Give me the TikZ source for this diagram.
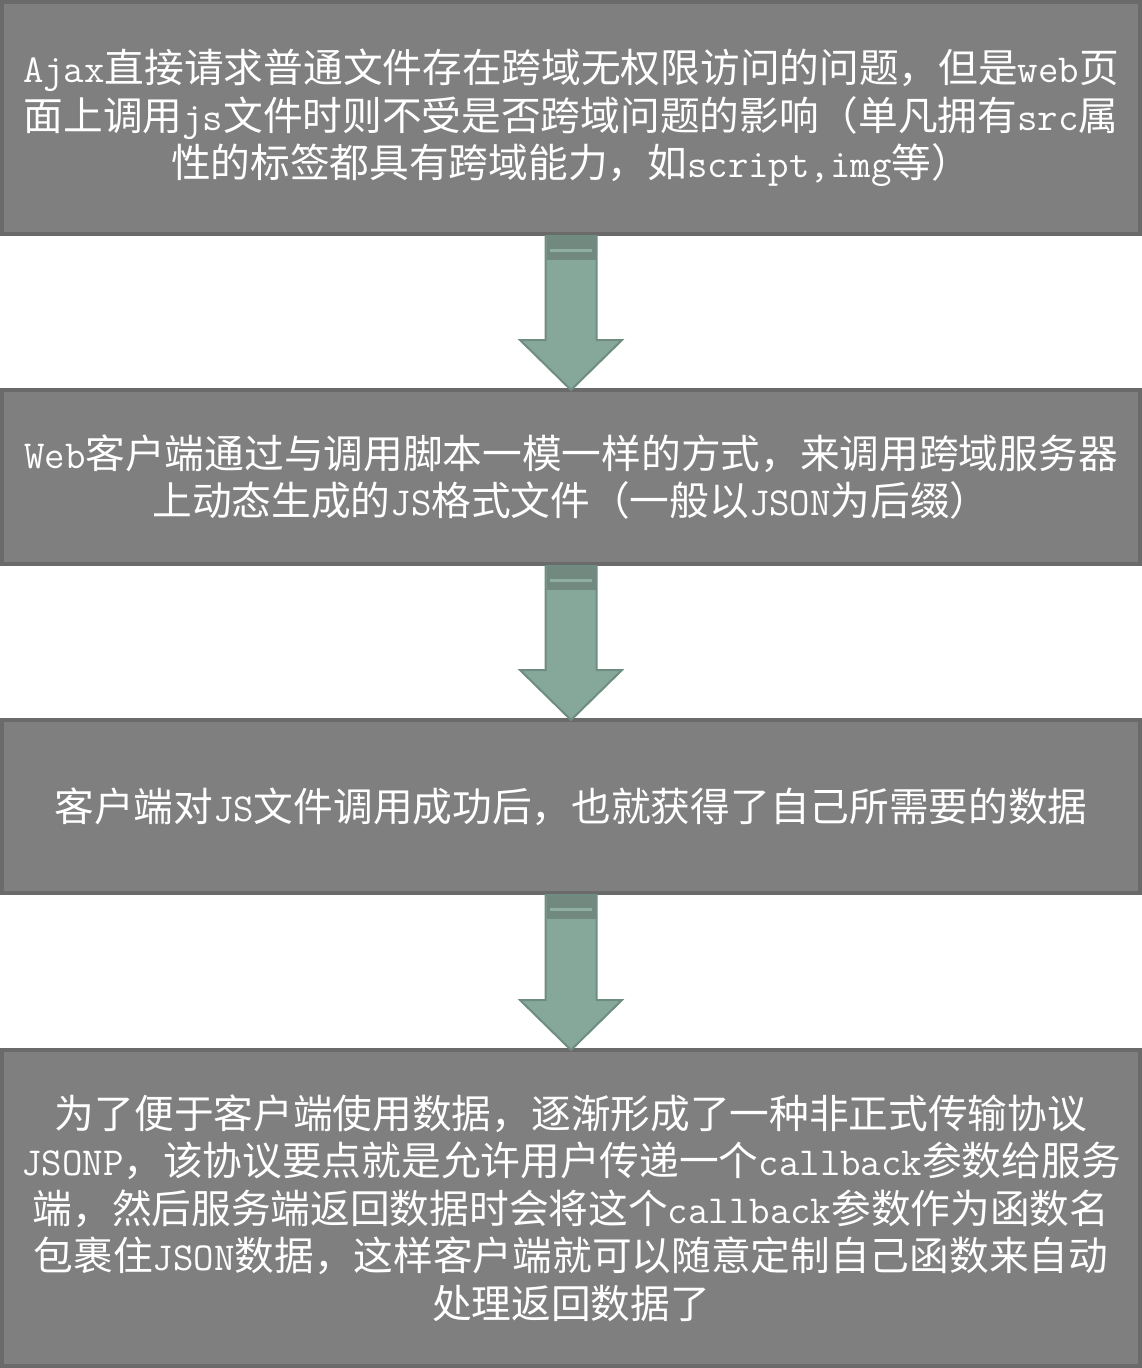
\documentclass[tikz,border=0pt]{standalone}
\usepackage{fontspec}
\setmainfont{Noto Sans CJK SC}
\usetikzlibrary{calc}
\definecolor{boxfill}{HTML}{7F7F7F}
\definecolor{boxedge}{HTML}{6A6A6A}
\definecolor{arrfill}{HTML}{86A89B}
\definecolor{arredge}{HTML}{6F8C80}
\definecolor{arrband}{HTML}{71897F}
\definecolor{arrstripe}{HTML}{8FAFA2}
\newcommand\lt[1]{{\ttfamily #1}}
\newcommand\blockarrow[2]{%
  \draw[draw=arredge, fill=arrfill, line width=2pt, line join=miter]
    let \p1=($(#1.south)+(0,-2)$), \p2=(#2.north) in
    (\x1-25.5pt,\y1) -- (\x1+25.5pt,\y1) -- (\x1+25.5pt,\y2+50pt) -- (\x1+51pt,\y2+50pt)
    -- (\x1,\y2) -- (\x1-51pt,\y2+50pt) -- (\x1-25.5pt,\y2+50pt) -- cycle;
  \fill[arrband] let \p1=($(#1.south)+(0,-2)$) in
    (\x1-24.5pt,\y1-1pt) rectangle (\x1+24.5pt,\y1-24pt);
  \fill[arrstripe] let \p1=($(#1.south)+(0,-2)$) in
    (\x1-21pt,\y1-13pt) rectangle (\x1+21pt,\y1-16pt);
}
\begin{document}
\begin{tikzpicture}[x=1pt,y=1pt,
  box/.style={rectangle, fill=boxfill, draw=boxedge, line width=4pt,
    minimum width=1138pt, inner sep=0pt, outer sep=0pt, text=white,
    align=center, font=\fontsize{39.7}{47.5}\selectfont}]
\useasboundingbox (0,0) rectangle (1142,-1368);
\fill[white] (0,0) rectangle (1142,-1368);
\node[box, minimum height=232pt] (b1) at (571,-118)
  {\lt{Ajax}直接请求普通文件存在跨域无权限访问的问题，但是\lt{web}页\\
   面上调用\lt{js}文件时则不受是否跨域问题的影响（单凡拥有\lt{src}属\\
   性的标签都具有跨域能力，如\lt{script,img}等）};
\node[box, minimum height=174pt] (b2) at (571,-477)
  {\lt{Web}客户端通过与调用脚本一模一样的方式，来调用跨域服务器\\
   上动态生成的\lt{JS}格式文件（一般以\lt{JSON}为后缀）};
\node[box, minimum height=173pt] (b3) at (571,-806.5)
  {客户端对\lt{JS}文件调用成功后，也就获得了自己所需要的数据};
\node[box, minimum height=316pt] (b4) at (571,-1208)
  {为了便于客户端使用数据，逐渐形成了一种非正式传输协议\\
   \lt{JSONP}，该协议要点就是允许用户传递一个\lt{callback}参数给服务\\
   端，然后服务端返回数据时会将这个\lt{callback}参数作为函数名\\
   包裹住\lt{JSON}数据，这样客户端就可以随意定制自己函数来自动\\
   处理返回数据了};
\blockarrow{b1}{b2}
\blockarrow{b2}{b3}
\blockarrow{b3}{b4}
\end{tikzpicture}
\end{document}
